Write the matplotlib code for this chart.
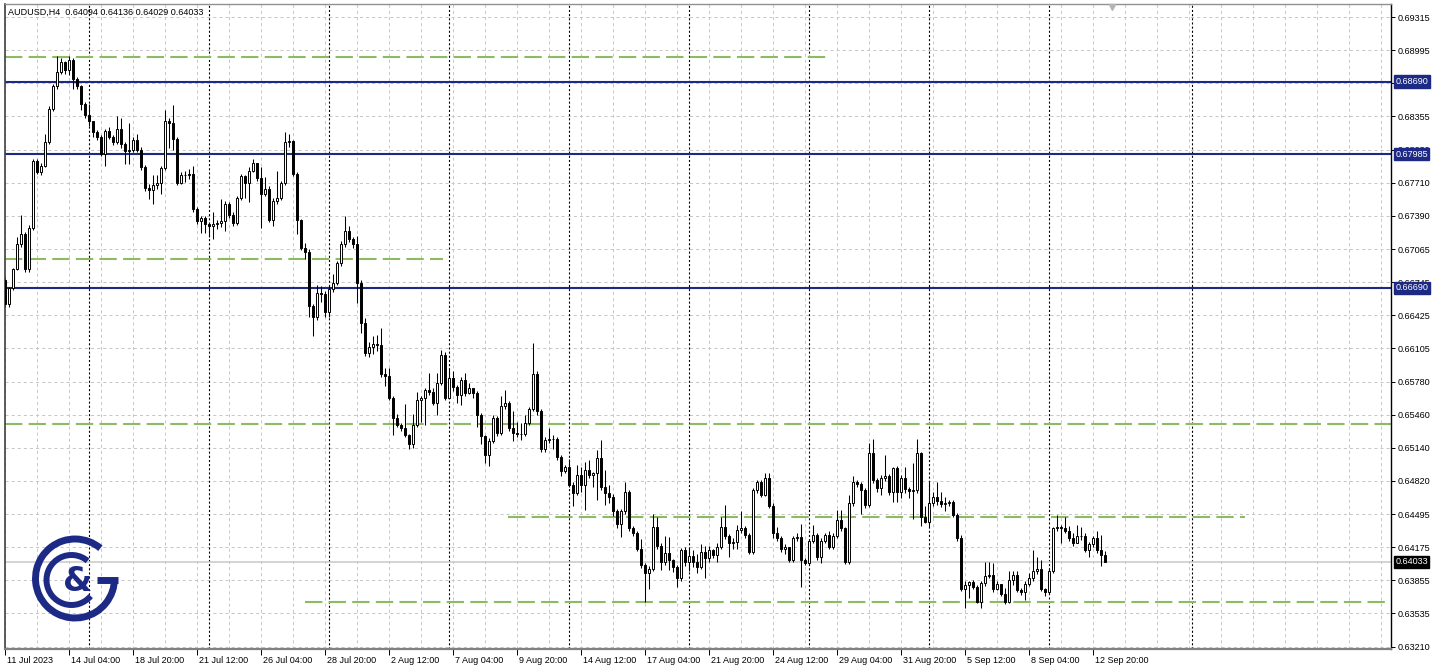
import matplotlib
matplotlib.use("Agg")
import matplotlib.pyplot as plt
from matplotlib.patches import Arc
from matplotlib.transforms import ScaledTranslation, blended_transform_factory
import numpy as np

plt.rcParams['font.family'] = ['Liberation Sans', 'DejaVu Sans']
plt.rcParams['lines.scale_dashes'] = False

# ---------------- data ----------------
symbol_title = "AUDUSD,H4  0.64094 0.64136 0.64029 0.64033"
first_open = 0.6677

close = [0.6653, 0.6669, 0.6687, 0.6711, 0.6721, 0.6687, 0.6727, 0.6792, 0.6781, 0.6787,
         0.6810, 0.6842, 0.6865, 0.6878, 0.6888, 0.6880, 0.6890, 0.6871, 0.6865, 0.6847,
         0.6837, 0.6831, 0.6820, 0.6815, 0.6799, 0.6821, 0.6815, 0.6810, 0.6823, 0.6808,
         0.6802, 0.6803, 0.6812, 0.6803, 0.6786, 0.6766, 0.6764, 0.6769, 0.6771, 0.6785,
         0.6831, 0.6829, 0.6813, 0.6771, 0.6778, 0.6778, 0.6779, 0.6745, 0.6734, 0.6737,
         0.6731, 0.6729, 0.6731, 0.6732, 0.6734, 0.6750, 0.6740, 0.6732, 0.6756, 0.6777,
         0.6771, 0.6782, 0.6790, 0.6775, 0.6760, 0.6765, 0.6735, 0.6753, 0.6756, 0.6771,
         0.6810, 0.6811, 0.6779, 0.6735, 0.6708, 0.6704, 0.6651, 0.6641, 0.6664, 0.6663,
         0.6645, 0.6668, 0.6674, 0.6693, 0.6711, 0.6724, 0.6716, 0.6711, 0.6674, 0.6635,
         0.6606, 0.6612, 0.6614, 0.6613, 0.6585, 0.6583, 0.6562, 0.6543, 0.6536, 0.6533,
         0.6526, 0.6517, 0.6536, 0.6560, 0.6562, 0.6570, 0.6568, 0.6557, 0.6577, 0.6604,
         0.6562, 0.6581, 0.6573, 0.6565, 0.6580, 0.6567, 0.6572, 0.6567, 0.6546, 0.6525,
         0.6507, 0.6520, 0.6543, 0.6528, 0.6554, 0.6557, 0.6533, 0.6528, 0.6527, 0.6527,
         0.6538, 0.6551, 0.6585, 0.6549, 0.6513, 0.6521, 0.6522, 0.6522, 0.6505, 0.6491,
         0.6495, 0.6478, 0.6470, 0.6487, 0.6478, 0.6492, 0.6487, 0.6489, 0.6504, 0.6476,
         0.6470, 0.6466, 0.6452, 0.6440, 0.6452, 0.6471, 0.6436, 0.6431, 0.6416, 0.6400,
         0.6392, 0.6396, 0.6437, 0.6419, 0.6403, 0.6412, 0.6405, 0.6398, 0.6387, 0.6415,
         0.6403, 0.6409, 0.6403, 0.6398, 0.6413, 0.6407, 0.6415, 0.6410, 0.6418, 0.6437,
         0.6428, 0.6421, 0.6422, 0.6434, 0.6436, 0.6429, 0.6413, 0.6473, 0.6481, 0.6468,
         0.6484, 0.6457, 0.6431, 0.6426, 0.6416, 0.6418, 0.6405, 0.6426, 0.6427, 0.6405,
         0.6402, 0.6423, 0.6429, 0.6408, 0.6423, 0.6429, 0.6418, 0.6428, 0.6444, 0.6436,
         0.6403, 0.6460, 0.6481, 0.6479, 0.6473, 0.6458, 0.6509, 0.6483, 0.6475, 0.6484,
         0.6486, 0.6471, 0.6494, 0.6471, 0.6484, 0.6474, 0.6472, 0.6473, 0.6509, 0.6447,
         0.6442, 0.6460, 0.6466, 0.6462, 0.6459, 0.6460, 0.6461, 0.6449, 0.6426, 0.6377,
         0.6381, 0.6384, 0.6379, 0.6364, 0.6383, 0.6389, 0.6390, 0.6377, 0.6382, 0.6372,
         0.6364, 0.6386, 0.6390, 0.6376, 0.6374, 0.6382, 0.6387, 0.6394, 0.6396, 0.6377,
         0.6374, 0.6394, 0.6436, 0.6437, 0.6436, 0.6433, 0.6426, 0.6421, 0.6428, 0.6428,
         0.6415, 0.6420, 0.6426, 0.6415, 0.64094, 0.64033]

high = [0.6679, 0.6670, 0.6688, 0.6718, 0.6740, 0.6723, 0.6730, 0.6794, 0.6794, 0.6790,
        0.6818, 0.6845, 0.6867, 0.6894, 0.6892, 0.6889, 0.6894, 0.6892, 0.6873, 0.6866,
        0.6849, 0.6847, 0.6831, 0.6822, 0.6817, 0.6823, 0.6825, 0.6817, 0.6836, 0.6834,
        0.6810, 0.6829, 0.6815, 0.6818, 0.6806, 0.6788, 0.6770, 0.6778, 0.6778, 0.6787,
        0.6841, 0.6834, 0.6846, 0.6815, 0.6781, 0.6782, 0.6784, 0.6787, 0.6747, 0.6739,
        0.6739, 0.6731, 0.6742, 0.6735, 0.6755, 0.6753, 0.6752, 0.6742, 0.6758, 0.6779,
        0.6778, 0.6786, 0.6794, 0.6779, 0.6786, 0.6776, 0.6768, 0.6756, 0.6782, 0.6773,
        0.6820, 0.6818, 0.6812, 0.6781, 0.6736, 0.6712, 0.6707, 0.6653, 0.6672, 0.6671,
        0.6666, 0.6672, 0.6682, 0.6695, 0.6714, 0.6739, 0.6729, 0.6718, 0.6719, 0.6677,
        0.6640, 0.6616, 0.6622, 0.6623, 0.6630, 0.6591, 0.6591, 0.6564, 0.6547, 0.6538,
        0.6556, 0.6527, 0.6547, 0.6568, 0.6564, 0.6572, 0.6586, 0.6572, 0.6586, 0.6609,
        0.6607, 0.6591, 0.6588, 0.6575, 0.6582, 0.6586, 0.6577, 0.6570, 0.6569, 0.6548,
        0.6526, 0.6523, 0.6546, 0.6545, 0.6564, 0.6570, 0.6559, 0.6549, 0.6539, 0.6538,
        0.6546, 0.6553, 0.6615, 0.6588, 0.6551, 0.6524, 0.6533, 0.6526, 0.6524, 0.6507,
        0.6497, 0.6503, 0.6481, 0.6497, 0.6495, 0.6500, 0.6502, 0.6490, 0.6512, 0.6521,
        0.6492, 0.6478, 0.6469, 0.6454, 0.6454, 0.6481, 0.6473, 0.6438, 0.6433, 0.6425,
        0.6402, 0.6399, 0.6450, 0.6447, 0.6421, 0.6428, 0.6427, 0.6406, 0.6400, 0.6417,
        0.6418, 0.6418, 0.6415, 0.6411, 0.6420, 0.6419, 0.6419, 0.6416, 0.6421, 0.6447,
        0.6458, 0.6430, 0.6426, 0.6439, 0.6452, 0.6438, 0.6431, 0.6475, 0.6483, 0.6483,
        0.6489, 0.6489, 0.6460, 0.6437, 0.6428, 0.6420, 0.6418, 0.6428, 0.6431, 0.6440,
        0.6407, 0.6425, 0.6439, 0.6431, 0.6426, 0.6431, 0.6433, 0.6431, 0.6453, 0.6453,
        0.6437, 0.6468, 0.6486, 0.6483, 0.6481, 0.6475, 0.6518, 0.6522, 0.6484, 0.6487,
        0.6507, 0.6488, 0.6495, 0.6496, 0.6487, 0.6495, 0.6476, 0.6499, 0.6522, 0.6510,
        0.6457, 0.6481, 0.6471, 0.6481, 0.6471, 0.6466, 0.6463, 0.6463, 0.6451, 0.6429,
        0.6385, 0.6385, 0.6386, 0.6381, 0.6385, 0.6403, 0.6403, 0.6402, 0.6385, 0.6380,
        0.6378, 0.6394, 0.6394, 0.6394, 0.6378, 0.6385, 0.6392, 0.6415, 0.6408, 0.6405,
        0.6378, 0.6397, 0.6437, 0.6449, 0.6439, 0.6447, 0.6438, 0.6431, 0.6439, 0.6437,
        0.6431, 0.6422, 0.6428, 0.6433, 0.6429, 0.64136]

low = [0.6650, 0.6650, 0.6667, 0.6686, 0.6709, 0.6684, 0.6684, 0.6725, 0.6779, 0.6778,
       0.6786, 0.6808, 0.6840, 0.6862, 0.6876, 0.6876, 0.6875, 0.6862, 0.6862, 0.6841,
       0.6834, 0.6826, 0.6815, 0.6812, 0.6797, 0.6787, 0.6813, 0.6807, 0.6808, 0.6805,
       0.6789, 0.6789, 0.6801, 0.6801, 0.6783, 0.6763, 0.6755, 0.6750, 0.6765, 0.6760,
       0.6783, 0.6805, 0.6803, 0.6769, 0.6770, 0.6772, 0.6774, 0.6742, 0.6731, 0.6722,
       0.6722, 0.6718, 0.6716, 0.6726, 0.6728, 0.6724, 0.6737, 0.6729, 0.6730, 0.6754,
       0.6756, 0.6752, 0.6781, 0.6773, 0.6727, 0.6758, 0.6733, 0.6729, 0.6750, 0.6754,
       0.6769, 0.6806, 0.6777, 0.6721, 0.6706, 0.6697, 0.6641, 0.6622, 0.6638, 0.6655,
       0.6641, 0.6641, 0.6665, 0.6672, 0.6690, 0.6709, 0.6713, 0.6708, 0.6654, 0.6625,
       0.6603, 0.6602, 0.6605, 0.6608, 0.6582, 0.6574, 0.6560, 0.6526, 0.6534, 0.6530,
       0.6524, 0.6513, 0.6514, 0.6534, 0.6539, 0.6536, 0.6565, 0.6555, 0.6546, 0.6575,
       0.6560, 0.6567, 0.6569, 0.6557, 0.6555, 0.6564, 0.6566, 0.6562, 0.6534, 0.6517,
       0.6499, 0.6496, 0.6518, 0.6525, 0.6526, 0.6551, 0.6530, 0.6520, 0.6524, 0.6521,
       0.6525, 0.6536, 0.6549, 0.6546, 0.6510, 0.6510, 0.6518, 0.6513, 0.6502, 0.6486,
       0.6489, 0.6476, 0.6457, 0.6468, 0.6471, 0.6453, 0.6484, 0.6476, 0.6463, 0.6473,
       0.6458, 0.6460, 0.6448, 0.6436, 0.6427, 0.6450, 0.6433, 0.6428, 0.6414, 0.6397,
       0.6364, 0.6377, 0.6394, 0.6416, 0.6395, 0.6400, 0.6395, 0.6393, 0.6379, 0.6385,
       0.6399, 0.6394, 0.6398, 0.6392, 0.6396, 0.6387, 0.6403, 0.6407, 0.6403, 0.6416,
       0.6425, 0.6408, 0.6416, 0.6416, 0.6431, 0.6426, 0.6411, 0.6411, 0.6470, 0.6466,
       0.6467, 0.6455, 0.6426, 0.6423, 0.6413, 0.6411, 0.6403, 0.6403, 0.6423, 0.6379,
       0.6400, 0.6401, 0.6421, 0.6405, 0.6402, 0.6421, 0.6416, 0.6416, 0.6426, 0.6433,
       0.6401, 0.6401, 0.6457, 0.6476, 0.6450, 0.6455, 0.6456, 0.6480, 0.6471, 0.6468,
       0.6482, 0.6468, 0.6461, 0.6461, 0.6465, 0.6470, 0.6465, 0.6445, 0.6470, 0.6438,
       0.6441, 0.6437, 0.6457, 0.6458, 0.6456, 0.6452, 0.6457, 0.6447, 0.6423, 0.6375,
       0.6358, 0.6368, 0.6377, 0.6363, 0.6358, 0.6380, 0.6387, 0.6374, 0.6376, 0.6370,
       0.6362, 0.6363, 0.6381, 0.6374, 0.6371, 0.6366, 0.6380, 0.6385, 0.6391, 0.6375,
       0.6370, 0.6372, 0.6392, 0.6433, 0.6421, 0.6431, 0.6423, 0.6419, 0.6422, 0.6424,
       0.6413, 0.6408, 0.6418, 0.6412, 0.6399, 0.64029]

xtick_labels = ["11 Jul 2023", "14 Jul 04:00", "18 Jul 20:00", "21 Jul 12:00", "26 Jul 04:00",
                "28 Jul 20:00", "2 Aug 12:00", "7 Aug 04:00", "9 Aug 20:00", "14 Aug 12:00",
                "17 Aug 04:00", "21 Aug 20:00", "24 Aug 12:00", "29 Aug 04:00", "31 Aug 20:00",
                "5 Sep 12:00", "8 Sep 04:00", "12 Sep 20:00"]
bars_per_label = 16

ytick_values = [0.63210, 0.63535, 0.63855, 0.64175, 0.64495, 0.64820, 0.65140, 0.65460,
                0.65780, 0.66105, 0.66425, 0.66745, 0.67065, 0.67390, 0.67710, 0.68030,
                0.68355, 0.68675, 0.68995, 0.69315]

week_separators = [21, 51, 81, 111, 141, 171, 201, 231, 261, 296.7]

navy_levels = [0.68690, 0.67985, 0.66690]
green_levels = [0.68929, 0.66970, 0.65367, 0.64466, 0.63641]
green_from = [0, 0, 0, 125.7, 74.9]
green_to = [206.2, 109.4, 346.5, 309.9, 346.5]
bid_price = 0.64033

# ---------------- figure ----------------
W, H = 1439, 669
fig = plt.figure(figsize=(W / 100, H / 100), dpi=100)
fig.patch.set_facecolor('white')

ax_l, ax_r, ax_t, ax_b = 4.5, 1391, 3.5, 648.5
ax = fig.add_axes([ax_l / W, 1 - ax_b / H, (ax_r - ax_l) / W, (ax_b - ax_t) / H])
ax.set_facecolor('white')
ax.set_axisbelow(True)

n = len(close)
x = np.arange(n)
opens = np.array([first_open] + close[:-1])
c = np.array(close)
hi = np.array(high)
lo = np.array(low)

ax.set_xlim(-0.2, 346.4)
ax.set_ylim(0.63191, 0.69447)

NAVY = '#1c2a86'
GREEN = '#8dbb63'
GRID = '#c6c6c6'

# grid
for gx in np.arange(0, 347, 8):
    ax.axvline(gx, color=GRID, lw=0.7, dashes=(2.2, 2.2), zorder=0.6)
for gy in ytick_values:
    ax.axhline(gy, color=GRID, lw=0.7, dashes=(2.2, 2.2), zorder=0.6)

# week separators
for s in week_separators:
    ax.axvline(s, color='black', lw=0.8, dashes=(1.5, 1.5), zorder=0.7)

# bid line
ax.axhline(bid_price, color='#c8c8c8', lw=1.1, zorder=0.8)

# horizontal levels
for lv in navy_levels:
    ax.axhline(lv, color=NAVY, lw=1.5, zorder=1.5)
for lv, a, b in zip(green_levels, green_from, green_to):
    ax.plot([a, b], [lv, lv], color=GREEN, lw=1.5, dashes=(12.5, 4.5), zorder=1.5,
            solid_capstyle='butt', dash_capstyle='butt')

# candles
ax.vlines(x, lo, hi, color='black', lw=0.75, zorder=2)
bull = c >= opens
bottoms = np.minimum(opens, c)
heights = np.abs(c - opens)
ax.bar(x[bull], heights[bull], bottom=bottoms[bull], width=0.55, color='white',
       edgecolor='black', linewidth=0.7, zorder=3)
ax.bar(x[~bull], heights[~bull], bottom=bottoms[~bull], width=0.55, color='black',
       edgecolor='black', linewidth=0.7, zorder=3)

# axes styling
ax.yaxis.tick_right()
ax.set_yticks(ytick_values)
ax.set_yticklabels([f"{v:.5f}" for v in ytick_values])
ax.set_xticks(np.arange(len(xtick_labels)) * bars_per_label)
ax.set_xticklabels(xtick_labels)
ax.tick_params(axis='y', length=3, width=0.7, pad=2, labelsize=6.5, colors='black')
ax.tick_params(axis='x', length=4, width=0.7, pad=1.5, labelsize=6.5, colors='black')
off = ScaledTranslation(1.5 / 72, 0, fig.dpi_scale_trans)
for lbl in ax.get_xticklabels():
    lbl.set_horizontalalignment('left')
    lbl.set_transform(lbl.get_transform() + off)

ax.spines['left'].set_color('#404040')
ax.spines['left'].set_linewidth(1.2)
ax.spines['top'].set_color('#909090')
ax.spines['top'].set_linewidth(1.0)
ax.spines['bottom'].set_color('#808080')
ax.spines['bottom'].set_linewidth(1.6)
ax.spines['right'].set_color('black')
ax.spines['right'].set_linewidth(1.0)

# price boxes on right axis
for lv in navy_levels:
    ax.annotate(f"{lv:.5f}", xy=(1, lv), xycoords=('axes fraction', 'data'),
                xytext=(3, 0), textcoords='offset points', va='center', ha='left',
                fontsize=6.5, color='white', annotation_clip=False, zorder=10,
                bbox=dict(boxstyle='square,pad=0.18', fc=NAVY, ec=NAVY))
ax.annotate(f"{bid_price:.5f}", xy=(1, bid_price), xycoords=('axes fraction', 'data'),
            xytext=(3, 0), textcoords='offset points', va='center', ha='left',
            fontsize=6.5, color='white', annotation_clip=False, zorder=10,
            bbox=dict(boxstyle='square,pad=0.18', fc='black', ec='black'))

# chart-shift marker at top
tr = blended_transform_factory(ax.transData, ax.transAxes)
ax.plot([276.7], [0.995], marker='v', color='#b4b4b4', ms=5, transform=tr,
        clip_on=False, zorder=5)

# title
fig.text(8 / W, 1 - 12 / H, symbol_title, fontsize=6.5, va='center', ha='left', color='black')

# logo
lax = fig.add_axes([0, 0, 1, 1], facecolor='none')
lax.set_xlim(0, W)
lax.set_ylim(0, H)
lax.axis('off')
cx, cy = 75, H - 578.5
lax.add_patch(Arc((cx, cy), 79, 79, theta1=50, theta2=360, color=NAVY, lw=5.0))
lax.plot([cx + 22, cx + 42.5], [cy - 1.5, cy - 1.5], color=NAVY, lw=5.0, solid_capstyle='butt')
lax.add_patch(Arc((cx - 3.5, cy - 1.5), 50, 50, theta1=50, theta2=320, color=NAVY, lw=4.3))
lax.text(cx + 3, cy - 3, '&', fontsize=24, fontweight='bold', color=NAVY,
         ha='center', va='center', family='DejaVu Sans')

fig.savefig('out.png', dpi=100, facecolor='white')
